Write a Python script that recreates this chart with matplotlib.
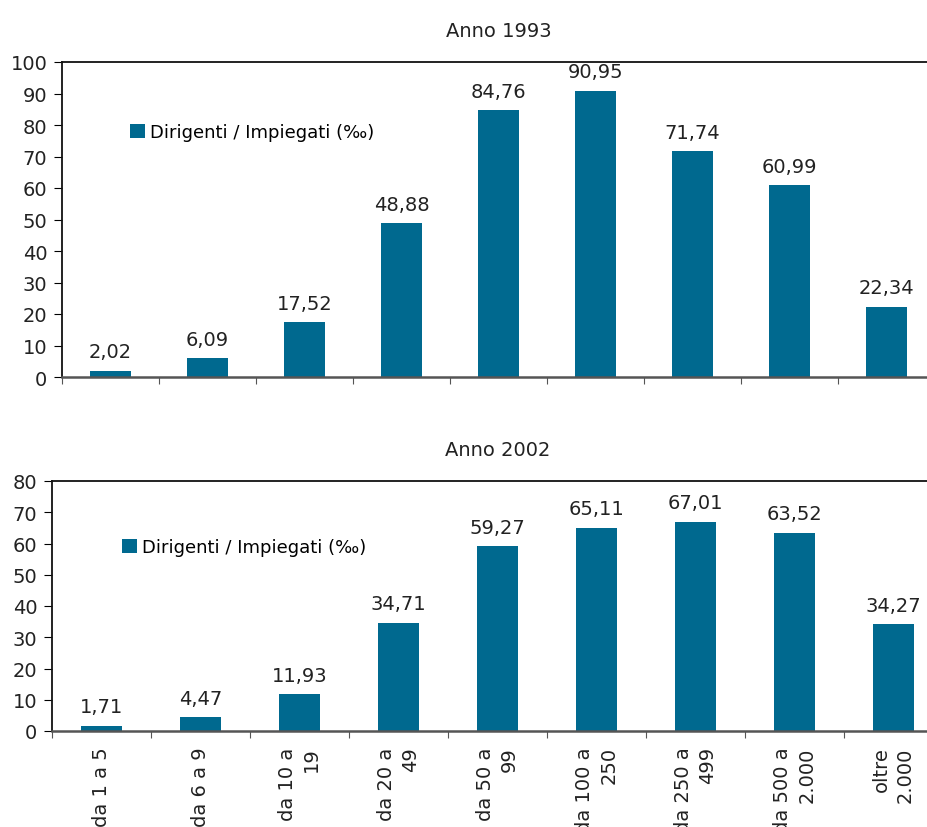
import matplotlib
matplotlib.use("Agg")
import matplotlib.pyplot as plt

plt.rcParams['font.family'] = ['DejaVu Sans']

categories = ["da 1 a 5", "da 6 a 9", "da 10 a\n19", "da 20 a\n49", "da 50 a\n99",
              "da 100 a\n250", "da 250 a\n499", "da 500 a\n2.000", "oltre\n2.000"]
values_1993 = [2.02, 6.09, 17.52, 48.88, 84.76, 90.95, 71.74, 60.99, 22.34]
values_2002 = [1.71, 4.47, 11.93, 34.71, 59.27, 65.11, 67.01, 63.52, 34.27]
series_label = "Dirigenti / Impiegati (‰)"
titles = ["Anno 1993", "Anno 2002"]

color = "#00698f"
W, H = 928, 828
fig = plt.figure(figsize=(W / 100, H / 100), dpi=100)
FS = 14

def fmt(v):
    return f"{v:.2f}".replace(".", ",")

def make(ax_rect, vals, title, ymax, leg_xy, show_labels):
    ax = fig.add_axes(ax_rect)
    x = list(range(len(vals)))
    bars = ax.bar(x, vals, width=0.42, color=color, label=series_label, zorder=2)
    for b, v in zip(bars, vals):
        ax.annotate(fmt(v), (b.get_x() + b.get_width() / 2, v), xytext=(0, 9.5),
                    textcoords="offset points", ha="center", va="baseline",
                    fontsize=FS, color="#222222")
    ax.set_xlim(-0.5, len(vals) - 0.5)
    ax.set_ylim(0, ymax)
    ax.set_yticks(range(0, ymax + 1, 10))
    ax.set_xticks([i - 0.5 for i in range(len(vals) + 1)], minor=False)
    ax.set_xticklabels([])
    ax.tick_params(axis="x", which="major", length=5, direction="out", color="#555555")
    ax.set_xticks(x, minor=True)
    if show_labels:
        ax.set_xticklabels(categories, minor=True, rotation=90, fontsize=FS,
                           color="#222222", multialignment="right", linespacing=1.35)
    ax.tick_params(axis="x", which="minor", length=0, pad=11)
    ax.tick_params(axis="y", length=5.5, direction="out", labelsize=FS,
                   labelcolor="#222222", pad=5)
    ax.spines["right"].set_visible(False)
    for s in ["top", "left"]:
        ax.spines[s].set_linewidth(1.3)
        ax.spines[s].set_color("#111111")
    ax.spines["bottom"].set_linewidth(1.8)
    ax.spines["bottom"].set_color("#555555")
    ax.set_title(title, fontsize=FS, color="#222222", pad=19)
    ax.legend(loc="center left", bbox_to_anchor=leg_xy, frameon=False,
              handlelength=0.8, handleheight=0.8, handletextpad=0.3, borderpad=0,
              borderaxespad=0, prop={"size": 13})
    return ax

top = make([62 / W, (H - 378) / H, 873 / W, 315 / H], values_1993, titles[0], 100,
           (0.078, 0.778), False)
bot = make([52 / W, (H - 732) / H, 891 / W, 250 / H], values_2002, titles[1], 80,
           (0.079, 0.736), True)

fig.savefig("out.png", dpi=100)
